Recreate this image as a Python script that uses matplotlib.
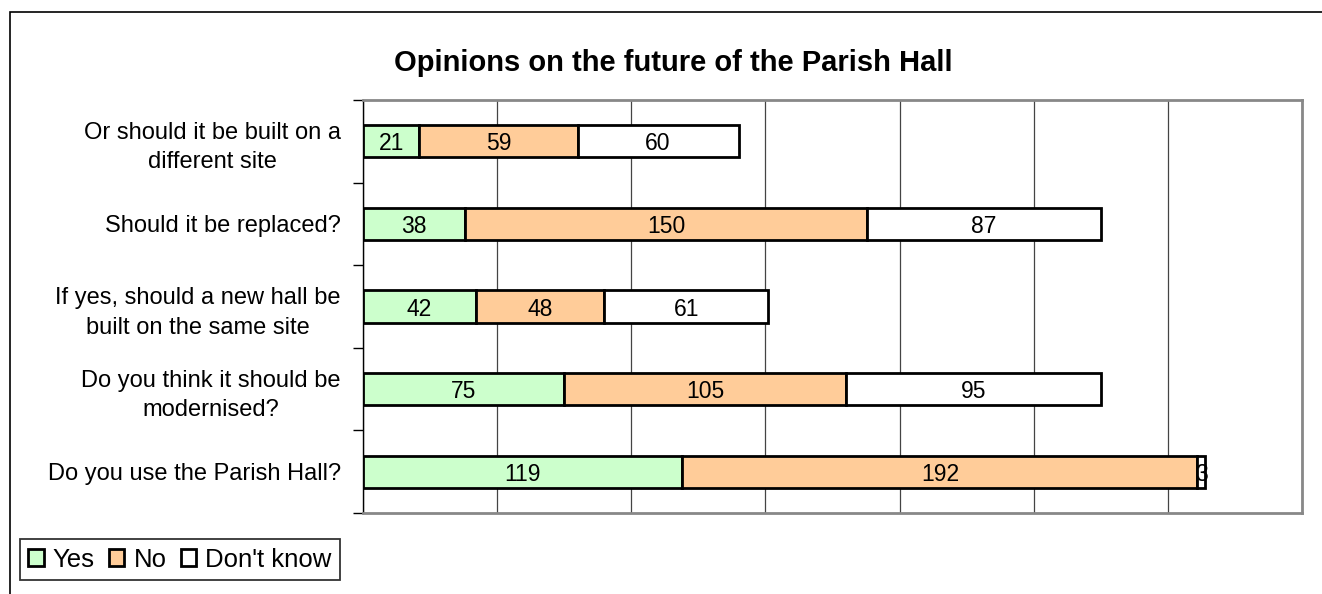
import matplotlib
matplotlib.use("Agg")
import matplotlib.pyplot as plt
from matplotlib.patches import Rectangle

plt.rcParams['font.family'] = ['Liberation Sans', 'DejaVu Sans']

questions = [
    "Do you use the Parish Hall?",
    "Do you think it should be\nmodernised?",
    "If yes, should a new hall be\nbuilt on the same site",
    "Should it be replaced?",
    "Or should it be built on a\ndifferent site",
]
yes = [119, 75, 42, 38, 21]
no = [192, 105, 48, 150, 59]
dont_know = [3, 95, 61, 87, 60]
series_names = ["Yes", "No", "Don't know"]
colors = ["#CCFFCC", "#FFCC99", "#FFFFFF"]

W, H = 1322, 594
fig = plt.figure(figsize=(W / 100, H / 100), dpi=100)

# outer chart frame
fig.add_artist(Rectangle((10 / W, -0.1), 1.2, (H - 12) / H + 0.1, transform=fig.transFigure,
                         fill=False, edgecolor='black', linewidth=1.2))

ax = fig.add_axes([363 / W, 1 - 513 / H, (1302 - 363) / W, (513 - 100) / H])
ax.set_xlim(0, 350)
ax.set_ylim(-0.5, len(questions) - 0.5)

ypos = list(range(len(questions)))
left = [0] * len(questions)
for vals, col in zip([yes, no, dont_know], colors):
    bars = ax.barh(ypos, vals, left=left, height=0.39, color=col,
                   edgecolor='black', linewidth=2, zorder=3)
    for b, v in zip(bars, vals):
        ax.text(b.get_x() + b.get_width() / 2, b.get_y() + b.get_height() / 2,
                str(v), ha='center', va='center_baseline', fontsize=16.5, zorder=4)
    left = [l + v for l, v in zip(left, vals)]

ax.set_xticks(range(0, 351, 50))
ax.xaxis.grid(True, color='#444444', linewidth=0.9, zorder=0)
ax.tick_params(axis='x', length=0, labelbottom=False)

ax.set_yticks(ypos)
ax.set_yticklabels(questions, fontsize=17, ha='right', multialignment='center',
                   linespacing=1.45)
ax.tick_params(axis='y', length=0, pad=16)
ax.set_yticks([i - 0.5 for i in range(len(questions) + 1)], minor=True)
ax.tick_params(axis='y', which='minor', length=7, width=1, direction='out', color='black')

for s in ['top', 'right', 'bottom']:
    ax.spines[s].set_color('#888888')
    ax.spines[s].set_linewidth(2)
ax.spines['left'].set_color('black')
ax.spines['left'].set_linewidth(1)

fig.text(673 / W, 1 - 63 / H, "Opinions on the future of the Parish Hall",
         ha='center', va='center', fontsize=21, fontweight='bold')

handles = [Rectangle((0, 0), 1, 1, facecolor=c, edgecolor='black', linewidth=2) for c in colors]
leg = fig.legend(handles, series_names, loc='lower left',
                 bbox_to_anchor=(20 / W, 1 - 580 / H), fontsize=18.5,
                 ncol=3, frameon=True, fancybox=False, edgecolor='black',
                 handlelength=0.6, handleheight=0.6, handletextpad=0.35,
                 columnspacing=0.55, borderpad=0.33, borderaxespad=0)
leg.get_frame().set_linewidth(1.3)

fig.savefig("out.png", dpi=100)
